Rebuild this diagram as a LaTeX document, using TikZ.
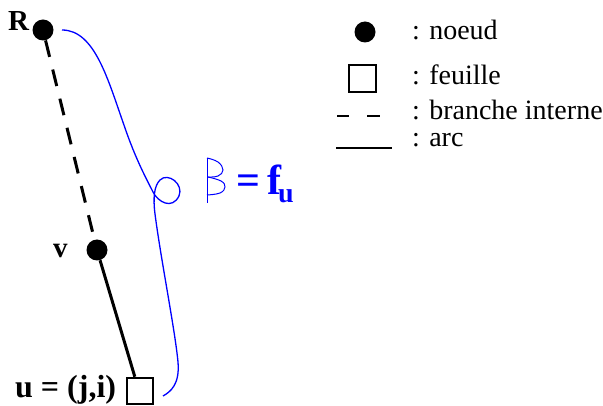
\documentclass[tikz,border=0pt]{standalone}
\usepackage{fontspec}
\setmainfont{Liberation Serif}
\begin{document}
\begin{tikzpicture}[x=1pt,y=-1pt,
  dot/.style={circle,fill=black,inner sep=0pt,minimum size=21pt},
  leaf/.style={rectangle,draw=black,line width=2.5pt,inner sep=0pt,minimum size=26pt},
  lbl/.style={anchor=base west,inner sep=0pt,font=\fontsize{29}{32}\selectfont\bfseries},
  legtxt/.style={anchor=base west,inner sep=0pt,font=\fontsize{28}{32}\selectfont},
  branche/.style={line width=3pt,dash pattern=on 17pt off 13pt},
  arcline/.style={line width=3pt},
  bluecurve/.style={blue,line width=1.3pt}]
\useasboundingbox (0,0) rectangle (603,406);
% tree
\node[dot] (R) at (43,30) {};
\node[dot] (v) at (97,250) {};
\node[leaf] (u) at (140,391) {};
\node[lbl] (Rl) at (8,31) {R};
\node[lbl] (vl) at (53,258) {v};
\node[lbl,font=\fontsize{32}{36}\selectfont\bfseries] (ul) at (15,397) {u = (j,i)};
\draw[branche] (R) -- (v);
\draw[arcline] (v) -- (u.110);
% blue curve
\draw[bluecurve] (62,30) .. controls (95,30) and (108,80) .. (125,128)
  .. controls (136,160) and (147,180) .. (153,192)
  .. controls (158,202) and (172,210) .. (179,196)
  .. controls (184,184) and (168,172) .. (160,180)
  .. controls (154,186) and (153,198) .. (155,214)
  .. controls (161,260) and (175,330) .. (178,362)
  .. controls (180,385) and (170,392) .. (163,396);
% beta
\draw[blue,line width=1pt] (207,203) -- (207,158);
\draw[blue,line width=1pt] plot[smooth,tension=0.7] coordinates {(207,158) (218,162) (223,170) (218,176) (208,177)};
\draw[blue,line width=1pt] plot[smooth,tension=0.7] coordinates {(208,177) (221,181) (225,187) (220,193) (207,195)};
\node[anchor=base west,inner sep=0pt,text=blue,font=\fontsize{42}{46}\selectfont\bfseries] (fu) at (236,195) {=\kern7pt f\kern-3pt\raisebox{-8pt}{\fontsize{28}{30}\selectfont u}};
% legend
\node[dot] (ln) at (365,32) {};
\node[legtxt] (tn) at (412,40) {: noeud};
\node[rectangle,draw=black,line width=2pt,inner sep=0pt,minimum size=27pt] (lf) at (362,79) {};
\node[legtxt] (tf) at (412,85) {: feuille};
\coordinate (b1) at (337,116);
\coordinate (b2) at (349,116);
\coordinate (b3) at (367,116);
\coordinate (b4) at (380,116);
\draw[line width=2pt] (b1) -- (b2);
\draw[line width=2pt] (b3) -- (b4);
\node[legtxt] (tb) at (412,120) {: branche interne};
\coordinate (a1) at (336,148);
\coordinate (a2) at (392,148);
\draw[line width=2pt] (a1) -- (a2);
\node[legtxt] (ta) at (412,147) {: arc};
\end{tikzpicture}
\end{document}
